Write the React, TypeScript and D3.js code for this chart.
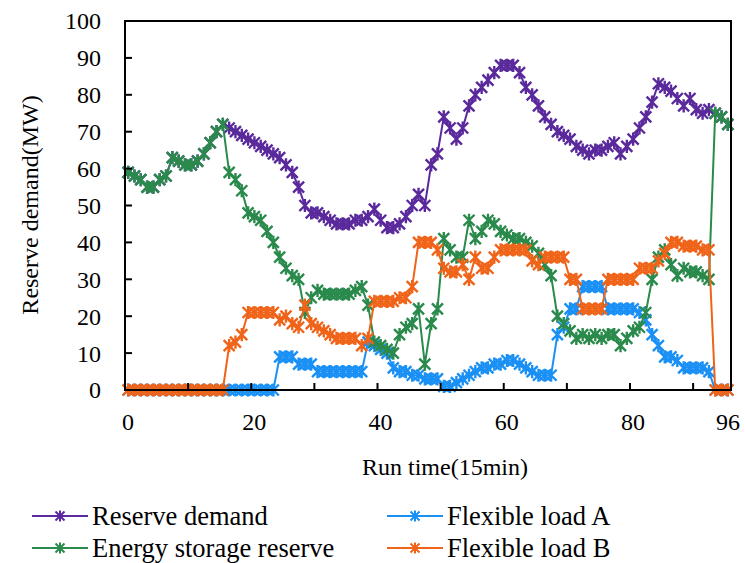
import React, { useEffect, useRef } from 'react';
import * as d3 from 'd3';

// 96 periods of 15 min
const reserveDemand = [
  59, 58, 57, 55, 55, 57, 58, 63, 62, 61, 61, 62, 64, 67, 70, 72,
  71, 70, 69, 68, 67, 66, 65, 64, 63, 61, 59, 55, 50, 48, 48, 47,
  46, 45, 45, 45, 46, 46, 47, 49, 46, 44, 44, 45, 47, 50, 53, 50,
  61, 64, 74, 71, 68, 71, 77, 80, 82, 84, 86, 88, 88, 88, 86, 82,
  80, 77, 74, 72, 70, 69, 68, 66, 65, 64, 65, 65, 66, 67, 64, 66,
  68, 71, 74, 78, 83, 82, 81, 79, 77, 79, 76, 75, 76, 75, 74, 72,
];

const flexibleLoadA = [
  0, 0, 0, 0, 0, 0, 0, 0, 0, 0, 0, 0, 0, 0, 0, 0,
  0, 0, 0, 0, 0, 0, 0, 0, 9, 9, 9, 7, 7, 7, 5, 5,
  5, 5, 5, 5, 5, 5, 13, 12, 11, 10, 6, 5, 5, 4, 4, 3,
  3, 3, 1, 1, 2, 3, 4, 5, 6, 6, 7, 7, 8, 8, 7, 6,
  5, 4, 4, 4, 15, 17, 22, 22, 28, 28, 28, 28, 22, 22, 22, 22,
  22, 21, 19, 15, 12, 9, 9, 8, 6, 6, 6, 6, 5, 0, 0, 0,
];

const energyStorage = [
  59, 58, 57, 55, 55, 57, 58, 63, 62, 61, 61, 62, 64, 67, 70, 72,
  59, 57, 54, 48, 47, 46, 43, 40, 36, 33, 31, 30, 21, 25, 27, 26,
  26, 26, 26, 26, 27, 28, 23, 13, 12, 11, 10, 15, 17, 18, 22, 7,
  18, 22, 41, 38, 36, 36, 46, 41, 43, 46, 45, 43, 42, 41, 41, 40,
  39, 37, 34, 31, 20, 18, 16, 14, 15, 14, 15, 14, 15, 15, 12, 14,
  16, 17, 21, 30, 36, 38, 34, 31, 33, 32, 32, 31, 30, 75, 74, 72,
];

const flexibleLoadB = [
  0, 0, 0, 0, 0, 0, 0, 0, 0, 0, 0, 0, 0, 0, 0, 0,
  12, 13, 15, 21, 21, 21, 21, 21, 19, 20, 18, 17, 23, 18, 17, 16,
  15, 14, 14, 14, 14, 12, 14, 24, 24, 24, 24, 25, 25, 28, 40, 40,
  40, 38, 33, 32, 32, 34, 30, 36, 33, 33, 36, 38, 38, 38, 38, 38,
  35, 34, 36, 36, 36, 36, 30, 30, 22, 22, 22, 22, 30, 30, 30, 30,
  30, 33, 33, 33, 35, 37, 40, 40, 39, 39, 39, 38, 38, 0, 0, 0,
];

const seriesNames = ['Reserve demand', 'Flexible load A', 'Energy storage reserve', 'Flexible load B'];
const seriesColors = ['#5a2a9c', '#1a90f5', '#2a8a4c', '#ef6419'];
const xTickLabels = [0, 20, 40, 60, 80, 96];
const xTickMarks = [10, 20, 30, 40, 50, 60, 70, 80, 90];
const yTicks = [0, 10, 20, 30, 40, 50, 60, 70, 80, 90, 100];

const W = 745;
const H = 563;

const App: React.FC = () => {
  const svgRef = useRef<SVGSVGElement>(null);

  useEffect(() => {
    if (!svgRef.current) return;
    const svg = d3.select(svgRef.current);
    svg.selectAll('*').remove();

    const left = 125, right = 731, top = 21, bottom = 390;
    const x = d3.scaleLinear().domain([0, 96]).range([left, right]);
    const y = d3.scaleLinear().domain([0, 100]).range([bottom, top]);
    const font = '"Liberation Serif", "Times New Roman", serif';

    const allSeries = [reserveDemand, flexibleLoadA, energyStorage, flexibleLoadB];

    const starPath = (s: number) =>
      `M${-s},${-s}L${s},${s}M${-s},${s}L${s},${-s}M0,${-s * 1.2}L0,${s * 1.2}`;

    const line = d3.line<number>()
      .x((_, i) => x(i + 0.5))
      .y(d => y(d));

    allSeries.forEach((data, k) => {
      const g = svg.append('g');
      g.append('path')
        .attr('d', line(data) as string)
        .attr('fill', 'none')
        .attr('stroke', seriesColors[k])
        .attr('stroke-width', 2);
      g.selectAll('path.m')
        .data(data)
        .enter()
        .append('path')
        .attr('class', 'm')
        .attr('d', starPath(5.5))
        .attr('transform', (d, i) => `translate(${x(i + 0.5)},${y(d)})`)
        .attr('fill', 'none')
        .attr('stroke', seriesColors[k])
        .attr('stroke-width', 2.4);
    });

    // frame
    svg.append('rect')
      .attr('x', left)
      .attr('y', top)
      .attr('width', right - left)
      .attr('height', bottom - top)
      .attr('fill', 'none')
      .attr('stroke', '#000')
      .attr('stroke-width', 2);

    // y ticks (inside)
    yTicks.forEach(v => {
      svg.append('line')
        .attr('x1', left).attr('x2', left + 7)
        .attr('y1', y(v)).attr('y2', y(v))
        .attr('stroke', '#000').attr('stroke-width', 2);
      svg.append('text')
        .attr('x', 101)
        .attr('y', y(v))
        .attr('dy', '0.35em')
        .attr('text-anchor', 'end')
        .attr('font-family', font)
        .attr('font-size', 24)
        .attr('fill', '#000')
        .text(v);
    });

    // x ticks (inside)
    xTickMarks.forEach(v => {
      svg.append('line')
        .attr('x1', x(v)).attr('x2', x(v))
        .attr('y1', bottom).attr('y2', bottom - 7)
        .attr('stroke', '#000').attr('stroke-width', 2);
    });
    xTickLabels.forEach(v => {
      svg.append('text')
        .attr('x', x(v) + (v === 96 ? -3 : 3))
        .attr('y', 422)
        .attr('dy', '0.35em')
        .attr('text-anchor', 'middle')
        .attr('font-family', font)
        .attr('font-size', 24)
        .attr('fill', '#000')
        .text(v);
    });

    // axis titles
    svg.append('text')
      .attr('x', 445)
      .attr('y', 467)
      .attr('dy', '0.35em')
      .attr('text-anchor', 'middle')
      .attr('font-family', font)
      .attr('font-size', 24)
      .text('Run time(15min)');

    svg.append('text')
      .attr('transform', 'translate(30,205) rotate(-90)')
      .attr('dy', '0.35em')
      .attr('text-anchor', 'middle')
      .attr('font-family', font)
      .attr('font-size', 24)
      .text('Reserve demand(MW)');

    // legend: row-major, two columns
    const legendPos = [
      { lx: 32, ly: 516 },
      { lx: 387, ly: 516 },
      { lx: 32, ly: 548 },
      { lx: 387, ly: 548 },
    ];
    seriesNames.forEach((name, k) => {
      const { lx, ly } = legendPos[k];
      const lg = svg.append('g').attr('transform', `translate(${lx},${ly})`);
      lg.append('line')
        .attr('x1', 0).attr('x2', 56)
        .attr('y1', 0).attr('y2', 0)
        .attr('stroke', seriesColors[k]).attr('stroke-width', 2);
      lg.append('path')
        .attr('d', starPath(4.5))
        .attr('transform', 'translate(28,0)')
        .attr('fill', 'none')
        .attr('stroke', seriesColors[k])
        .attr('stroke-width', 2);
      lg.append('text')
        .attr('x', 60)
        .attr('y', 0)
        .attr('dy', '0.35em')
        .attr('font-family', font)
        .attr('font-size', 26.5)
        .attr('fill', '#000')
        .text(name);
    });
  }, []);

  return (
    <svg
      ref={svgRef}
      width={W}
      height={H}
      style={{ position: 'absolute', left: 0, top: 0, background: '#fff' }}
    />
  );
};

export default App;
